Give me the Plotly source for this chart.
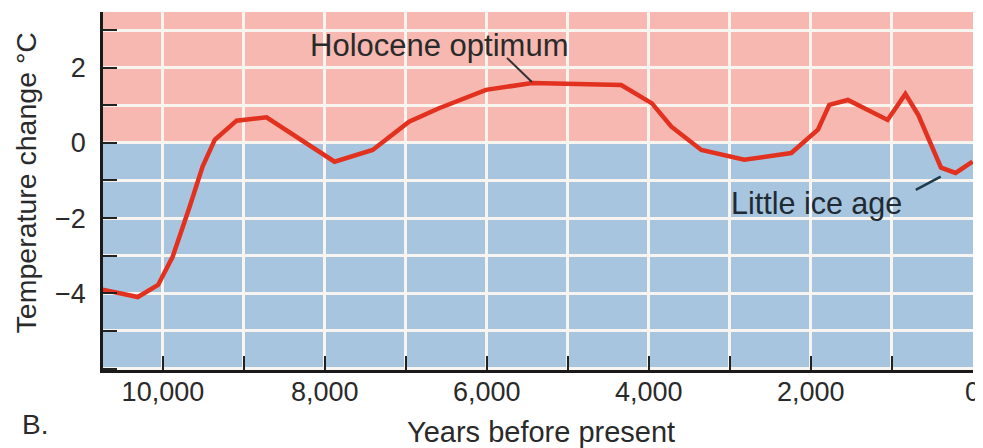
import plotly.graph_objects as go

# Data
years = [10750, 10310, 10060, 9880, 9670, 9510, 9360, 9090, 8720, 7880, 7410,
         6960, 6590, 6010, 5440, 4340, 3960, 3720, 3350, 2820, 2240, 1910,
         1770, 1540, 1050, 830, 670, 390, 210, 0]
temps = [-3.9, -4.1, -3.78, -3.03, -1.7, -0.63, 0.08, 0.59, 0.68, -0.5, -0.19,
         0.56, 0.92, 1.41, 1.59, 1.54, 1.05, 0.43, -0.19, -0.45, -0.27, 0.35,
         1.01, 1.14, 0.61, 1.3, 0.74, -0.66, -0.8, -0.5]

x_tickvals = [10000, 8000, 6000, 4000, 2000, 0]
x_ticktext = ["10,000", "8,000", "6,000", "4,000", "2,000", "0"]
y_tickvals = [-4, -2, 0, 2]

FONT = "Liberation Sans, Arial, sans-serif"
TXT = "#2a2a2a"
PINK = "#f6b8b0"
BLUE = "#a8c5df"
GRID = "#f8f4ef"

fig = go.Figure()
fig.add_trace(go.Scatter(x=years, y=temps, mode="lines",
                         line=dict(color="#e2311f", width=4.5),
                         hoverinfo="skip", showlegend=False))

# background bands
fig.add_shape(type="rect", xref="paper", yref="y", x0=0, x1=1, y0=0, y1=10,
              fillcolor=PINK, line=dict(width=0), layer="below")
fig.add_shape(type="rect", xref="paper", yref="y", x0=0, x1=1, y0=-10, y1=0,
              fillcolor=BLUE, line=dict(width=0), layer="below")

# leader lines
fig.add_shape(type="line", x0=5751, y0=2.26, x1=5443, y1=1.62,
              line=dict(color="#333333", width=2), layer="above")
fig.add_shape(type="line", x0=702, y0=-1.25, x1=394, y1=-0.9,
              line=dict(color="#1d3b4a", width=2.5), layer="above")

fig.add_annotation(x=6589, y=2.6, text="Holocene optimum", showarrow=False,
                   font=dict(family=FONT, size=31, color=TXT))
fig.add_annotation(x=1933, y=-1.6, text="Little ice age", showarrow=False,
                   font=dict(family=FONT, size=30.5, color="#1f2a33"))

# axis titles / panel label
fig.add_annotation(xref="paper", yref="paper", x=-0.0882, y=0.522,
                   text="Temperature change °C", textangle=-90, showarrow=False,
                   xanchor="center", yanchor="middle",
                   font=dict(family=FONT, size=28.5, color=TXT))
fig.add_annotation(xref="paper", yref="paper", x=0.503, y=-0.173,
                   text="Years before present", showarrow=False,
                   xanchor="center", yanchor="middle",
                   font=dict(family=FONT, size=29, color=TXT))
fig.add_annotation(xref="paper", yref="paper", x=-0.078, y=-0.151,
                   text="B.", showarrow=False,
                   xanchor="center", yanchor="middle",
                   font=dict(family=FONT, size=28, color=TXT))

fig.update_xaxes(range=[10740, -5], tickvals=x_tickvals, ticktext=x_ticktext,
                 automargin=False,
                 showgrid=True, gridcolor=GRID, gridwidth=2.5,
                 ticks="inside", ticklen=14, tickwidth=2, tickcolor="#222",
                 minor=dict(dtick=1000, tick0=0, showgrid=True, gridcolor=GRID,
                            gridwidth=2.5, ticks="inside", ticklen=14,
                            tickwidth=2, tickcolor="#222"),
                 showline=True, linecolor="#1a1a1a", linewidth=2.5,
                 zeroline=False, ticklabelstandoff=-4,
                 tickfont=dict(family=FONT, size=27, color=TXT))
fig.update_yaxes(range=[-6.04, 3.48], tickvals=y_tickvals,
                 automargin=False,
                 showgrid=True, gridcolor=GRID, gridwidth=2.5,
                 ticks="inside", ticklen=14, tickwidth=2, tickcolor="#222",
                 minor=dict(dtick=1, tick0=0, showgrid=True, gridcolor=GRID,
                            gridwidth=2.5, ticks="inside", ticklen=14,
                            tickwidth=2, tickcolor="#222"),
                 showline=True, linecolor="#1a1a1a", linewidth=2.5,
                 zeroline=False, ticklabelstandoff=9,
                 tickfont=dict(family=FONT, size=27, color=TXT))

# the page body adds an 8px offset, so the figure is 8px smaller than the window
fig.update_layout(width=975, height=440,
                  margin=dict(l=95, r=10, t=4, b=78),
                  paper_bgcolor="white", plot_bgcolor=BLUE,
                  showlegend=False)

fig.write_html("out.html")
